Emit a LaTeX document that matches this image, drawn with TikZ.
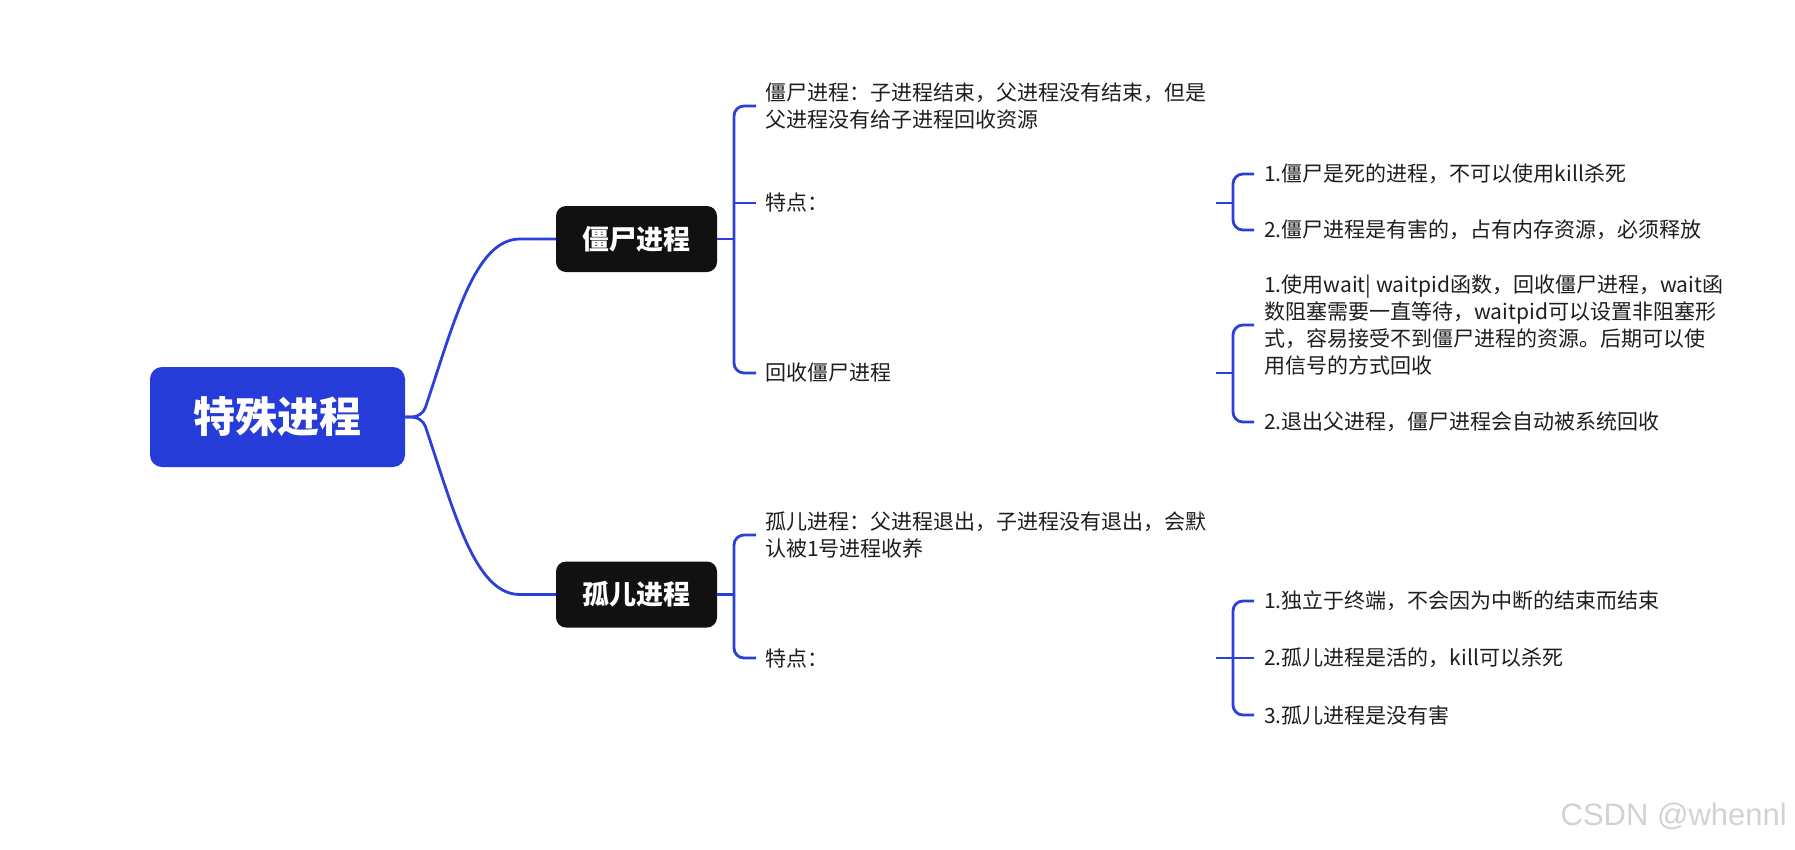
\documentclass[tikz,border=0pt]{standalone}
\usepackage{fontspec}
\setmainfont{Noto Sans CJK SC}
\newfontfamily\wmfont{Liberation Sans}
\definecolor{rootblue}{RGB}{38,60,216}
\definecolor{lineblue}{RGB}{43,64,216}
\definecolor{boxblack}{RGB}{17,17,17}
\definecolor{txt}{RGB}{30,30,30}
\definecolor{wmgrey}{RGB}{210,210,210}
\begin{document}
\begin{tikzpicture}[x=1pt,y=-1pt,
  rootbox/.style={fill=rootblue, rounded corners=12pt, minimum width=255pt, minimum height=100pt, text=white, inner sep=0pt, font=\fontsize{42}{50}\selectfont\bfseries},
  topicbox/.style={fill=boxblack, rounded corners=10pt, minimum width=161pt, minimum height=66pt, text=white, inner sep=0pt, font=\fontsize{27}{32}\selectfont\bfseries},
  subtxt/.style={anchor=west, inner xsep=9pt, inner ysep=0pt, text width=442pt, align=left, text=txt, font=\fontsize{21}{27.7}\selectfont},
  leaftxt/.style={anchor=west, inner xsep=10pt, inner ysep=0pt, align=left, text=txt, font=\fontsize{21}{26.8}\selectfont},
  br/.style={draw=lineblue, line width=2.8pt, rounded corners=10pt}]
\useasboundingbox (0,0) rectangle (1795,849);
% nodes
\node[rootbox] (root) at (277.5,417) {特殊进程};
\node[topicbox] (zb) at (636.5,239) {僵尸进程};
\node[topicbox] (gb) at (636.5,594.5) {孤儿进程};
\node[subtxt] (z1) at (756,106) {僵尸进程：子进程结束，父进程没有结束，但是\\父进程没有给子进程回收资源};
\node[subtxt] (z2) at (756,203) {特点：};
\node[subtxt] (z3) at (756,373) {回收僵尸进程};
\node[leaftxt] (z21) at (1254,174) {1.僵尸是死的进程，不可以使用kill杀死};
\node[leaftxt] (z22) at (1254,230) {2.僵尸进程是有害的，占有内存资源，必须释放};
\node[leaftxt] (z31) at (1254,325) {1.使用wait| waitpid函数，回收僵尸进程，wait函\\数阻塞需要一直等待，waitpid可以设置非阻塞形\\式，容易接受不到僵尸进程的资源。后期可以使\\用信号的方式回收};
\node[leaftxt] (z32) at (1254,422) {2.退出父进程，僵尸进程会自动被系统回收};
\node[subtxt] (g1) at (756,535) {孤儿进程：父进程退出，子进程没有退出，会默\\认被1号进程收养};
\node[subtxt] (g2) at (756,658) {特点：};
\node[leaftxt] (g21) at (1254,601) {1.独立于终端，不会因为中断的结束而结束};
\node[leaftxt] (g22) at (1254,658) {2.孤儿进程是活的，kill可以杀死};
\node[leaftxt] (g23) at (1254,715) {3.孤儿进程是没有害};
\node[anchor=east, text=wmgrey, inner sep=0pt, font=\wmfont\fontsize{31}{36}\selectfont] (wm) at (1787,816) {CSDN @whennl};
% root connectors
\draw[br] (root.east) -- ++(17,0) .. controls +(32,-95) and +(-55,0) .. ([xshift=-26pt]zb.west) -- (zb.west);
\draw[br] (root.east) -- ++(17,0) .. controls +(32,95) and +(-55,0) .. ([xshift=-26pt]gb.west) -- (gb.west);
% zombie brackets
\draw[br] (zb.east) -- ++(17,0);
\draw[br] (z1.west) -- ++(-22,0) |- (z3.west);
\draw[br] (z2.west) -- ++(-22,0);
\draw[br] (z2.east) -- ++(18,0);
\draw[br] (z21.west) -- ++(-21,0) |- (z22.west);
\draw[br] (z3.east) -- ++(18,0);
\draw[br] (z31.west) -- ++(-21,0) |- (z32.west);
% orphan brackets
\draw[br] (gb.east) -- ++(17,0);
\draw[br] (g1.west) -- ++(-22,0) |- (g2.west);
\draw[br] (g2.east) -- ++(18,0);
\draw[br] (g21.west) -- ++(-21,0) |- (g23.west);
\draw[br] (g22.west) -- ++(-21,0);
\end{tikzpicture}
\end{document}
